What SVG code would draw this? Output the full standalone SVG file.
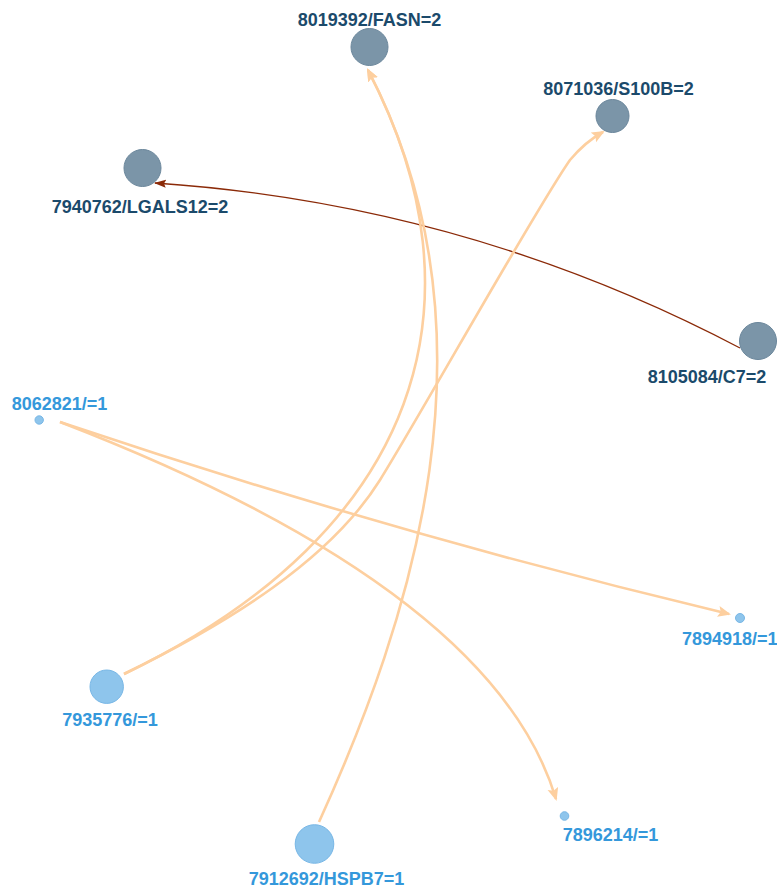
<svg xmlns="http://www.w3.org/2000/svg" width="777" height="888" viewBox="0 0 777 888">
<style>
.lbl{font-family:"Liberation Sans",Arial,sans-serif;font-weight:bold;font-size:18px;text-anchor:middle}
.dk{fill:#1b4a6b}
.lt{fill:#3498db}
.nd{fill:#7b95a8;stroke:#6a869b;stroke-width:1}
.nl{fill:#8ec5ec;stroke:#78b7e6;stroke-width:1}
.eo{fill:none;stroke:#fdcf9f;stroke-width:2.6}
.er{fill:none;stroke:#8b2a08;stroke-width:1.3}
</style>
<defs>
<marker id="ao" markerUnits="userSpaceOnUse" markerWidth="16" markerHeight="14" refX="11" refY="5.5" orient="auto">
<path d="M0,0 L13,5.5 L0,11 L2.5,5.5 Z" fill="#fdcf9f"/>
</marker>
<marker id="ar" markerUnits="userSpaceOnUse" markerWidth="14" markerHeight="10" refX="11" refY="4" orient="auto">
<path d="M0,0 L12,4 L0,8 L2,4 Z" fill="#8b2a08"/>
</marker>
</defs>
<g id="edges">
<path class="er" d="M740,348 Q466,204 155,183" marker-end="url(#ar)"/>
<path class="eo" d="M124,674 C424,530 488,300 368,70" marker-end="url(#ao)"/>
<path class="eo" d="M319,822 C410,622 506,335 368,70" marker-end="url(#ao)"/>
<path class="eo" d="M124,674 C230,622 330,560 380,480 C420,416 535,210 570,160 Q585,142 603,132" marker-end="url(#ao)"/>
<path class="eo" d="M60,422 Q390,533 729,614" marker-end="url(#ao)"/>
<path class="eo" d="M60,422 Q493,589 556,799" marker-end="url(#ao)"/>
</g>
<g id="n8019392"><circle class="nd" cx="369.5" cy="47" r="18.5"/><text class="lbl dk" x="369.5" y="26">8019392/FASN=2</text></g>
<g id="n8071036"><circle class="nd" cx="612.5" cy="116" r="16.5"/><text class="lbl dk" x="618.5" y="95">8071036/S100B=2</text></g>
<g id="n7940762"><circle class="nd" cx="142.5" cy="168" r="18.5"/><text class="lbl dk" x="140" y="213">7940762/LGALS12=2</text></g>
<g id="n8105084"><circle class="nd" cx="758" cy="341" r="18.5"/><text class="lbl dk" x="707" y="383">8105084/C7=2</text></g>
<g id="n8062821"><circle class="nl" cx="39.2" cy="420" r="4.2"/><text class="lbl lt" x="59.5" y="410">8062821/=1</text></g>
<g id="n7894918"><circle class="nl" cx="740" cy="618" r="4.5"/><text class="lbl lt" x="729.8" y="645">7894918/=1</text></g>
<g id="n7935776"><circle class="nl" cx="106.7" cy="686.7" r="16.7"/><text class="lbl lt" x="110" y="726">7935776/=1</text></g>
<g id="n7912692"><circle class="nl" cx="314.5" cy="844" r="19.3"/><text class="lbl lt" x="326.5" y="885">7912692/HSPB7=1</text></g>
<g id="n7896214"><circle class="nl" cx="564.5" cy="816" r="4.3"/><text class="lbl lt" x="610.5" y="841">7896214/=1</text></g>
</svg>
